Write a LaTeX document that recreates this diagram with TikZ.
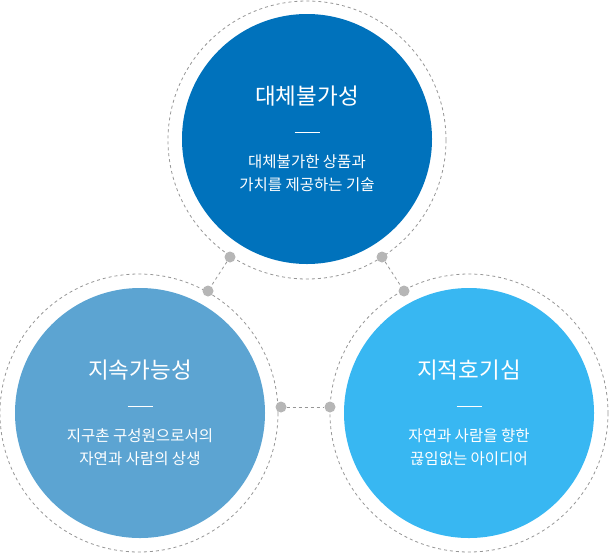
\documentclass[tikz,border=0pt]{standalone}
\usepackage{fontspec}
\setmainfont{Noto Sans CJK KR}
\definecolor{topblue}{RGB}{0,114,188}
\definecolor{leftblue}{RGB}{92,164,210}
\definecolor{rightblue}{RGB}{56,183,242}
\definecolor{dotgray}{RGB}{182,182,182}
\definecolor{ringgray}{RGB}{150,150,150}
\tikzset{
  disc/.style={circle,inner sep=0pt,minimum size=250pt},
  ring/.style={circle,draw=ringgray,line width=0.8pt,dash pattern=on 3pt off 3pt,inner sep=0pt,minimum size=278pt},
  knob/.style={circle,fill=dotgray,inner sep=0pt,minimum size=11pt},
  link/.style={draw=ringgray,line width=0.8pt,dash pattern=on 3pt off 3pt},
  title/.style={text=white,font=\fontsize{22.5}{26}\selectfont},
  sub/.style={text=white,align=center,font=\fontsize{15.5}{23}\selectfont},
  bar/.style={draw=white,line width=0.6pt}
}
\begin{document}
\begin{tikzpicture}[x=1pt,y=-1pt]
\useasboundingbox (0,0) rectangle (609,555);
% rings
\node[ring] (topring) at (307,140) {};
\node[ring] (leftring) at (139,413) {};
\node[ring] (rightring) at (469,413) {};
% discs
\node[disc,fill=topblue] (top) at (307,139) {};
\node[disc,fill=leftblue] (left) at (140,413) {};
\node[disc,fill=rightblue] (right) at (469,413) {};
% texts
\foreach \c/\t/\s in {top/대체불가성/{대체불가한 상품과\\가치를 제공하는 기술},
                      left/지속가능성/{지구촌 구성원으로서의\\자연과 사람의 상생},
                      right/지적호기심/{자연과 사람을 향한\\끊임없는 아이디어}}{
  \node[title] (\c title) at ([yshift=43pt]\c.center) {\t};
  \draw[bar] ([xshift=-12.5pt,yshift=7pt]\c.center) -- ([xshift=12.5pt,yshift=7pt]\c.center);
  \node[sub] (\c sub) at ([yshift=-34pt]\c.center) {\s};
}
% connectors
\node[knob] (tl) at (230,257) {};
\node[knob] (lt) at (208,291) {};
\node[knob] (tr) at (382,257) {};
\node[knob] (rt) at (404,291) {};
\node[knob] (lr) at (281,407) {};
\node[knob] (rl) at (330,407) {};
\draw[link] (tl) -- (lt);
\draw[link] (tr) -- (rt);
\draw[link] (lr) -- (rl);
\end{tikzpicture}
\end{document}
